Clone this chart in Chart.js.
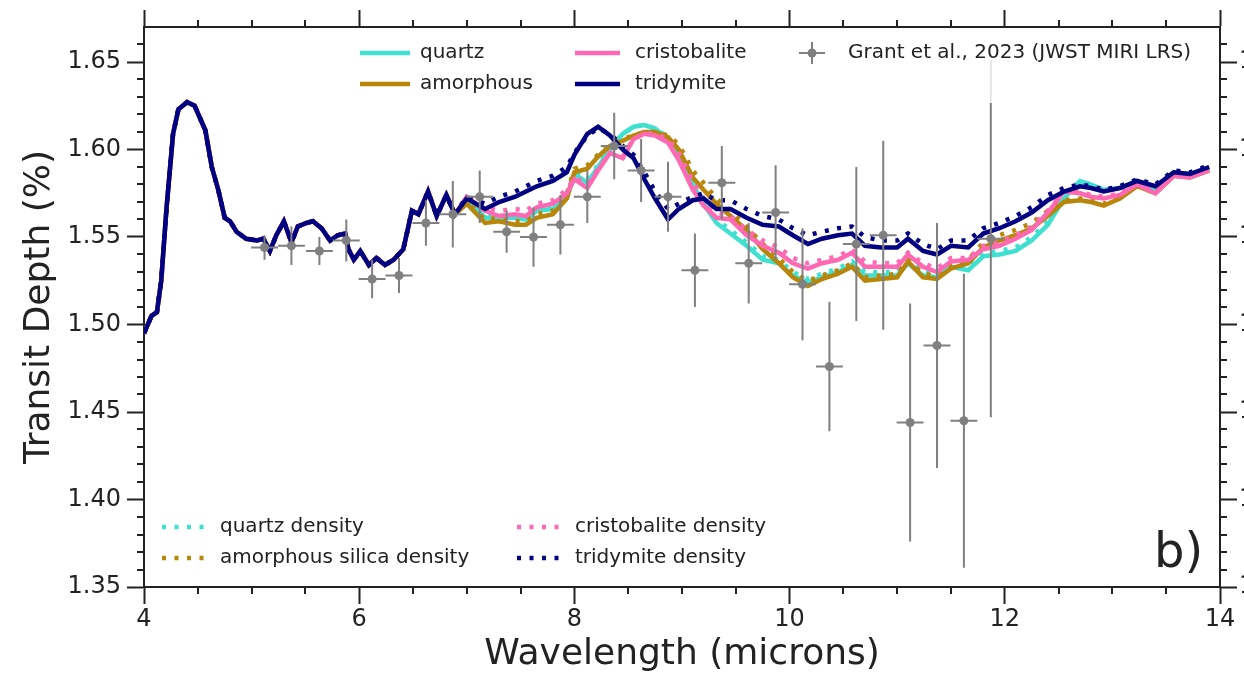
<!DOCTYPE html>
<html>
<head>
<meta charset="utf-8">
<script src="https://cdn.jsdelivr.net/npm/chart.js@4.4.0/dist/chart.umd.min.js"></script>
<style>
  html, body { margin: 0; padding: 0; background: #fff; }
  canvas { display: block; }
</style>
</head>
<body>
<canvas id="spectrum" width="1244" height="674"></canvas>
<script>
// wavelengths (microns) where all models coincide
var baseX = [4.00, 4.07, 4.12, 4.16, 4.21, 4.27, 4.32, 4.40, 4.47, 4.57, 4.63, 4.69, 4.75, 4.80, 4.86, 4.95,
             5.05, 5.11, 5.17, 5.23, 5.30, 5.37, 5.43, 5.51, 5.57, 5.65, 5.73, 5.80, 5.87, 5.90, 5.95,
             6.01, 6.09, 6.16, 6.24, 6.32, 6.41, 6.49, 6.55, 6.64, 6.72, 6.81, 6.89];
var baseY = [1.495, 1.505, 1.507, 1.525, 1.567, 1.609, 1.623, 1.627, 1.625, 1.611, 1.590, 1.577, 1.561, 1.559, 1.553, 1.549,
             1.548, 1.549, 1.542, 1.551, 1.559, 1.547, 1.556, 1.558, 1.559, 1.555, 1.548, 1.551, 1.552, 1.543, 1.537,
             1.542, 1.534, 1.538, 1.534, 1.537, 1.543, 1.565, 1.563, 1.576, 1.562, 1.574, 1.563];

// wavelengths past 7 microns, where the models split
var tailX = [7.0, 7.17, 7.3, 7.45, 7.55, 7.65, 7.8, 7.93,
             8.0, 8.12, 8.22, 8.33, 8.45, 8.55, 8.65, 8.75, 8.87, 8.97,
             9.1, 9.2, 9.32, 9.45, 9.6, 9.75, 9.9,
             10.03, 10.17, 10.3, 10.45, 10.58, 10.7, 10.85,
             11.0, 11.1, 11.24, 11.37, 11.5, 11.66, 11.8, 11.95,
             12.1, 12.25, 12.4, 12.55, 12.7, 12.8, 12.92,
             13.07, 13.23, 13.4, 13.57, 13.72, 13.9];

var quartzTail = [1.572, 1.561, 1.561, 1.561, 1.560, 1.565, 1.566, 1.572,
                  1.586, 1.581, 1.590, 1.600, 1.609, 1.613, 1.614, 1.612, 1.606, 1.596,
                  1.580, 1.569, 1.558, 1.552, 1.545, 1.537, 1.535,
                  1.528, 1.524, 1.527, 1.530, 1.534, 1.528, 1.528,
                  1.528, 1.535, 1.528, 1.527, 1.533, 1.531, 1.539, 1.540,
                  1.542, 1.548, 1.557, 1.572, 1.582, 1.580, 1.577,
                  1.578, 1.582, 1.577, 1.587, 1.586, 1.589];
var quartzDensityTail = [1.572, 1.562, 1.562, 1.562, 1.561, 1.566, 1.567, 1.574,
                  1.587, 1.583, 1.591, 1.601, 1.609, 1.613, 1.614, 1.612, 1.607, 1.598,
                  1.582, 1.571, 1.560, 1.554, 1.547, 1.539, 1.537,
                  1.530, 1.526, 1.529, 1.532, 1.536, 1.530, 1.530,
                  1.530, 1.537, 1.530, 1.529, 1.535, 1.533, 1.541, 1.542,
                  1.544, 1.550, 1.559, 1.573, 1.582, 1.580, 1.577,
                  1.578, 1.582, 1.577, 1.587, 1.586, 1.589];
var amorphousTail = [1.569, 1.558, 1.559, 1.557, 1.557, 1.561, 1.563, 1.572,
                  1.587, 1.589, 1.596, 1.602, 1.605, 1.608, 1.610, 1.610, 1.607, 1.600,
                  1.584, 1.577, 1.569, 1.562, 1.554, 1.543, 1.535,
                  1.527, 1.522, 1.526, 1.529, 1.533, 1.525, 1.526,
                  1.527, 1.536, 1.527, 1.526, 1.532, 1.535, 1.544, 1.548,
                  1.551, 1.555, 1.562, 1.570, 1.571, 1.570, 1.568,
                  1.572, 1.579, 1.575, 1.585, 1.584, 1.588];
var amorphousDensityTail = [1.570, 1.560, 1.561, 1.559, 1.559, 1.563, 1.565, 1.575,
                  1.589, 1.591, 1.597, 1.603, 1.606, 1.608, 1.610, 1.610, 1.608, 1.603,
                  1.588, 1.581, 1.572, 1.565, 1.556, 1.546, 1.538,
                  1.530, 1.525, 1.528, 1.531, 1.535, 1.527, 1.528,
                  1.529, 1.537, 1.529, 1.528, 1.534, 1.537, 1.547, 1.551,
                  1.554, 1.558, 1.565, 1.571, 1.572, 1.571, 1.569,
                  1.573, 1.579, 1.575, 1.585, 1.585, 1.588];
var cristobaliteTail = [1.573, 1.565, 1.562, 1.563, 1.562, 1.567, 1.569, 1.575,
                  1.583, 1.578, 1.588, 1.598, 1.595, 1.606, 1.609, 1.608, 1.604, 1.594,
                  1.577, 1.568, 1.561, 1.560, 1.551, 1.545, 1.541,
                  1.535, 1.532, 1.535, 1.537, 1.541, 1.533, 1.533,
                  1.533, 1.540, 1.533, 1.530, 1.536, 1.537, 1.543, 1.545,
                  1.549, 1.554, 1.564, 1.576, 1.575, 1.573, 1.572,
                  1.574, 1.580, 1.575, 1.585, 1.584, 1.588];
var cristobaliteDensityTail = [1.573, 1.567, 1.565, 1.566, 1.565, 1.569, 1.571, 1.577,
                  1.584, 1.580, 1.589, 1.598, 1.596, 1.606, 1.609, 1.609, 1.606, 1.598,
                  1.582, 1.572, 1.564, 1.562, 1.554, 1.548, 1.544,
                  1.538, 1.535, 1.537, 1.539, 1.543, 1.536, 1.535,
                  1.535, 1.541, 1.535, 1.532, 1.538, 1.538, 1.545, 1.547,
                  1.551, 1.556, 1.565, 1.576, 1.576, 1.574, 1.573,
                  1.575, 1.580, 1.576, 1.585, 1.585, 1.588];
var tridymiteTail = [1.572, 1.566, 1.570, 1.573, 1.576, 1.579, 1.582, 1.587,
                  1.597, 1.609, 1.613, 1.608, 1.600, 1.595, 1.583, 1.572, 1.560, 1.566,
                  1.571, 1.572, 1.566, 1.566, 1.561, 1.557, 1.556,
                  1.551, 1.546, 1.549, 1.551, 1.552, 1.545, 1.544,
                  1.544, 1.549, 1.542, 1.540, 1.545, 1.544, 1.552, 1.555,
                  1.559, 1.564, 1.571, 1.576, 1.579, 1.578, 1.576,
                  1.578, 1.582, 1.579, 1.587, 1.586, 1.590];
var tridymiteDensityTail = [1.573, 1.569, 1.573, 1.576, 1.579, 1.582, 1.585, 1.590,
                  1.598, 1.608, 1.612, 1.609, 1.602, 1.597, 1.587, 1.576, 1.566, 1.569,
                  1.573, 1.575, 1.571, 1.571, 1.566, 1.562, 1.560,
                  1.555, 1.551, 1.553, 1.555, 1.556, 1.550, 1.548,
                  1.548, 1.552, 1.546, 1.543, 1.548, 1.548, 1.555, 1.558,
                  1.562, 1.567, 1.574, 1.578, 1.580, 1.579, 1.577,
                  1.579, 1.583, 1.580, 1.588, 1.587, 1.591];

// Grant et al. 2023 MIRI LRS points
var obsX = [5.12, 5.37, 5.63, 5.88, 6.12, 6.37, 6.62, 6.87, 7.12, 7.37, 7.62, 7.87, 8.12, 8.37,
            8.62, 8.87, 9.12, 9.37, 9.62, 9.87, 10.12, 10.37, 10.62, 10.87, 11.12, 11.37, 11.62, 11.87];
var obsY = [1.544, 1.545, 1.542, 1.548, 1.526, 1.528, 1.558, 1.563, 1.573, 1.553, 1.550, 1.557, 1.573, 1.602,
            1.588, 1.573, 1.531, 1.581, 1.535, 1.564, 1.523, 1.476, 1.546, 1.551, 1.444, 1.488, 1.445, 1.549];
var obsErr = [0.007, 0.011, 0.008, 0.012, 0.011, 0.010, 0.013, 0.019, 0.015, 0.012, 0.017, 0.017, 0.015, 0.019,
              0.018, 0.020, 0.021, 0.021, 0.023, 0.027, 0.032, 0.037, 0.044, 0.054, 0.068, 0.070, 0.084, 0.102];
var obsHalfBin = 0.125;

var FONT = '"DejaVu Sans", "Liberation Sans", sans-serif';
var INK = '#222';
var C_QUARTZ = '#40E0D0', C_AMORPH = '#B8860B', C_CRIST = '#FF69B4', C_TRID = '#000080', C_OBS = '#808080';
var DOTS = [4, 8.5];
var LW = 4.5;

function series(tail) {
    var xs = baseX.concat(tailX);
    var ys = baseY.concat(tail);
    return xs.map(function(x, i) { return {x: x, y: ys[i]}; });
}

function model(label, tail, color, dotted) {
    return {
        label: label,
        data: series(tail),
        borderColor: color,
        borderWidth: LW,
        borderDash: dotted ? DOTS : [],
        borderCapStyle: 'butt',
        pointRadius: 0,
        fill: false
    };
}

var errorBars = {
    id: 'errorBars',
    afterDatasetsDraw: function(chart) {
        var c = chart.ctx, a = chart.chartArea;
        var sx = chart.scales.x, sy = chart.scales.y;
        c.save();
        c.beginPath();
        c.rect(a.left, a.top, a.right - a.left, a.bottom - a.top);
        c.clip();
        c.strokeStyle = C_OBS;
        c.lineWidth = 2;
        c.beginPath();
        for (var i = 0; i < obsX.length; i++) {
            var px = sx.getPixelForValue(obsX[i]);
            var py = sy.getPixelForValue(obsY[i]);
            c.moveTo(sx.getPixelForValue(obsX[i] - obsHalfBin), py);
            c.lineTo(sx.getPixelForValue(obsX[i] + obsHalfBin), py);
            c.moveTo(px, sy.getPixelForValue(obsY[i] - obsErr[i]));
            c.lineTo(px, sy.getPixelForValue(obsY[i] + obsErr[i]));
        }
        c.stroke();
        c.restore();
    }
};

function sample(c, x1, x2, y, color, dotted) {
    c.save();
    c.strokeStyle = color;
    c.lineWidth = LW;
    c.lineCap = 'butt';
    c.setLineDash(dotted ? DOTS : []);
    c.beginPath();
    c.moveTo(x1, y);
    c.lineTo(x2, y);
    c.stroke();
    c.restore();
}

var legends = {
    id: 'legends',
    afterDatasetsDraw: function(chart) {
        var c = chart.ctx;
        c.save();
        // translucent legend frames, like matplotlib
        c.fillStyle = 'rgba(255,255,255,0.8)';
        c.fillRect(348, 33, 866, 70);
        c.fillRect(150, 508, 640, 70);

        c.fillStyle = INK;
        c.font = '20px ' + FONT;
        c.textBaseline = 'middle';
        c.textAlign = 'left';

        sample(c, 360, 410, 53, C_QUARTZ, false);
        c.fillText('quartz', 420, 52.5);
        sample(c, 360, 410, 84, C_AMORPH, false);
        c.fillText('amorphous', 420, 83.5);
        sample(c, 575, 620, 53, C_CRIST, false);
        c.fillText('cristobalite', 635, 52.5);
        sample(c, 575, 620, 84, C_TRID, false);
        c.fillText('tridymite', 635, 83.5);

        // errorbar marker
        c.strokeStyle = C_OBS;
        c.lineWidth = 2;
        c.beginPath();
        c.moveTo(799, 53); c.lineTo(825, 53);
        c.moveTo(812, 42); c.lineTo(812, 64);
        c.stroke();
        c.fillStyle = C_OBS;
        c.beginPath();
        c.arc(812, 53, 4.5, 0, Math.PI * 2);
        c.fill();
        c.fillStyle = INK;
        c.fillText('Grant et al., 2023 (JWST MIRI LRS)', 848, 52.5);

        sample(c, 162, 204, 527, C_QUARTZ, true);
        c.fillText('quartz density', 220, 526.5);
        sample(c, 162, 204, 558, C_AMORPH, true);
        c.fillText('amorphous silica density', 220, 557.5);
        sample(c, 517, 559, 527, C_CRIST, true);
        c.fillText('cristobalite density', 575, 526.5);
        sample(c, 517, 559, 558, C_TRID, true);
        c.fillText('tridymite density', 575, 557.5);

        c.font = '48px ' + FONT;
        c.textBaseline = 'alphabetic';
        c.fillText('b)', 1154, 567);
        c.restore();
    }
};

// small ticks between the labelled ones
var minorTicks = {
    id: 'minorTicks',
    afterDraw: function(chart) {
        var c = chart.ctx, a = chart.chartArea;
        var sx = chart.scales.x, sy = chart.scales.y;
        c.save();
        c.strokeStyle = INK;
        c.lineWidth = 2;
        c.beginPath();
        for (var k = 1; k < 20; k++) {
            if (k % 4 === 0) continue;
            var px = Math.round(sx.getPixelForValue(4 + k * 0.5));
            c.moveTo(px, a.bottom); c.lineTo(px, a.bottom + 7);
            c.moveTo(px, a.top); c.lineTo(px, a.top - 7);
        }
        for (var j = 1; j < 32; j++) {
            if (j % 5 === 0) continue;
            var py = Math.round(sy.getPixelForValue(1.35 + j * 0.01));
            c.moveTo(a.left, py); c.lineTo(a.left - 7, py);
            c.moveTo(a.right, py); c.lineTo(a.right + 7, py);
        }
        c.stroke();
        c.restore();
    }
};

var tickFont = {family: FONT, size: 24};
var edge = {color: INK, width: 2};
function marks() {
    return {drawOnChartArea: false, drawTicks: true, tickLength: 17, tickWidth: 2, tickColor: INK};
}

var chart = new Chart(document.getElementById('spectrum'), {
    type: 'line',
    data: {
        datasets: [
            {
                label: 'Grant et al., 2023 (JWST MIRI LRS)',
                data: obsX.map(function(x, i) { return {x: x, y: obsY[i]}; }),
                showLine: false,
                pointRadius: 4.5,
                pointBorderWidth: 0,
                pointBackgroundColor: C_OBS
            },
            model('tridymite density', tridymiteDensityTail, C_TRID, true),
            model('tridymite', tridymiteTail, C_TRID, false),
            model('cristobalite density', cristobaliteDensityTail, C_CRIST, true),
            model('cristobalite', cristobaliteTail, C_CRIST, false),
            model('amorphous silica density', amorphousDensityTail, C_AMORPH, true),
            model('amorphous', amorphousTail, C_AMORPH, false),
            model('quartz density', quartzDensityTail, C_QUARTZ, true),
            model('quartz', quartzTail, C_QUARTZ, false)
        ]
    },
    plugins: [errorBars, legends, minorTicks],
    options: {
        responsive: false,
        animation: false,
        layout: { padding: 0 },
        elements: { line: { tension: 0 } },
        plugins: {
            legend: { display: false },
            tooltip: { enabled: false }
        },
        scales: {
            x: {
                type: 'linear', position: 'bottom', min: 4, max: 14,
                ticks: { stepSize: 2, padding: 1, color: INK, font: tickFont, maxRotation: 0, autoSkip: false },
                grid: marks(), border: edge,
                title: { display: true, text: 'Wavelength (microns)', color: INK,
                         font: {family: FONT, size: 36, lineHeight: 1}, padding: {top: 0, bottom: 1} },
                afterFit: function(s) { s.height = 87; }
            },
            x2: {
                type: 'linear', position: 'top', min: 4, max: 14,
                ticks: { stepSize: 2, display: false },
                grid: marks(), border: edge,
                afterFit: function(s) { s.height = 27; }
            },
            y: {
                type: 'linear', position: 'left', min: 1.35, max: 1.67,
                ticks: { stepSize: 0.05, includeBounds: false, padding: 6, color: INK, font: tickFont,
                         callback: function(v) { return v.toFixed(2); } },
                grid: marks(), border: edge,
                title: { display: true, text: 'Transit Depth (%)', color: INK,
                         font: {family: FONT, size: 36, lineHeight: 1}, padding: {top: 22, bottom: 0} },
                afterFit: function(s) { s.width = 144; }
            },
            y2: {
                type: 'linear', position: 'right', min: 1.35, max: 1.67,
                ticks: { stepSize: 0.05, includeBounds: false, padding: 2, color: INK, font: tickFont,
                         callback: function(v) { return v.toFixed(2); } },
                grid: marks(), border: edge,
                afterFit: function(s) { s.width = 24; }
            }
        }
    }
});
</script>
</body>
</html>
